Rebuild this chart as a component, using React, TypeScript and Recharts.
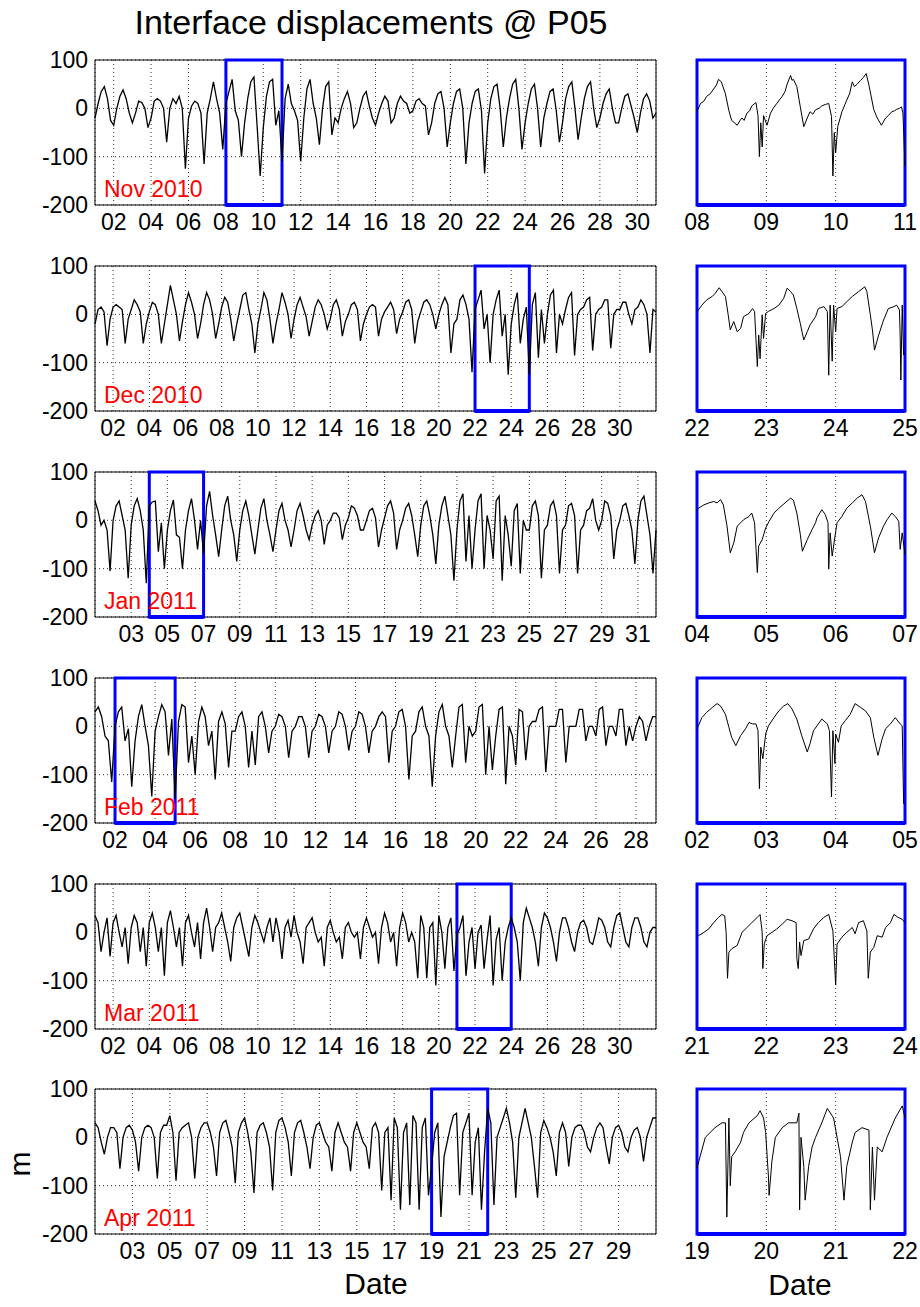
import { LineChart, Line, XAxis, YAxis, CartesianGrid, ReferenceArea, ReferenceLine } from 'recharts';

const FONT = '"Liberation Sans", Arial, Helvetica, sans-serif';

// rows, top to bottom
const monthLabels = ['Nov 2010', 'Dec 2010', 'Jan 2011', 'Feb 2011', 'Mar 2011', 'Apr 2011'];
const monthDays = [30, 31, 31, 28, 31, 30];
const zoomStartDay = [8, 22, 4, 2, 21, 19];

// day-of-month tick labels (left panels)
const novTicks = [2, 4, 6, 8, 10, 12, 14, 16, 18, 20, 22, 24, 26, 28, 30];
const decTicks = [2, 4, 6, 8, 10, 12, 14, 16, 18, 20, 22, 24, 26, 28, 30];
const janTicks = [3, 5, 7, 9, 11, 13, 15, 17, 19, 21, 23, 25, 27, 29, 31];
const febTicks = [2, 4, 6, 8, 10, 12, 14, 16, 18, 20, 22, 24, 26, 28];
const marTicks = [2, 4, 6, 8, 10, 12, 14, 16, 18, 20, 22, 24, 26, 28, 30];
const aprTicks = [3, 5, 7, 9, 11, 13, 15, 17, 19, 21, 23, 25, 27, 29];
const yTicks = [-200, -100, 0, 100];

// displacement (m), 4-hourly samples from 00h on the 1st
const nov10 = [
  -20, 10, 35, 45, 20, -25,
  -35, 0, 25, 38, 20, -10,
  -30, -10, 15, 12, 0, -40,
  -20, 15, 20, 15, 0, -70,
  0, 20, 10, 25, 0, -125,
  -20, 5, 15, 10, -10, -115,
  -10, 20, 55, 20, -10, -85,
  10, 35, 60, -5, -25, -100,
  -30, 20, 55, 65, -35, -140,
  -40, 25, 55, 60, -35, -5,
  -110, 20, 50, 10, -5, -25,
  -110, -20, 40, 60, 10, -20,
  -75, 0, 45, 55, -55, -20,
  -30, 0, 20, 35, 10, -40,
  -30, 0, 25, 35, 5, -20,
  -35, -10, 10, 25, 15, -30,
  -20, 10, 25, 15, 10, -10,
  -5, 15, 20, 10, 5, -55,
  -30, 10, 30, 35, 0, -80,
  -30, 10, 35, 40, 0, -115,
  -30, 10, 35, 40, -5, -135,
  -30, 20, 45, 50, 0, -80,
  -20, 20, 50, 60, 0, -85,
  -30, 10, 40, 50, 0, -80,
  -20, 10, 35, 40, -5, -70,
  -30, 20, 45, 55, 0, -65,
  -20, 20, 45, 55, 0, -40,
  -20, 10, 30, 40, 0, -30,
  -30, 0, 25, 30, 5, -20,
  -50, -10, 20, 30, 15, -20,
  -10,
];

const dec10 = [
  -20, 10, 15, 5, -65, -10,
  15, 20, 15, 10, -60, -10,
  10, 30, 20, 5, -60, -20,
  5, 25, 20, 0, -60, -20,
  20, 60, 30, 0, -55, -15,
  20, 45, 25, 0, -50, -20,
  20, 45, 30, 0, -50, -20,
  15, 35, 25, -10, -55, -20,
  10, 40, 45, 10, -20, -80,
  -20, 10, 45, 30, -10, -60,
  -20, 10, 45, 25, 0, -50,
  -10, 20, 35, 15, -5, -45,
  -15, 15, 30, 20, 0, -30,
  -10, 20, 30, 10, -45, -15,
  0, 20, 25, 10, -55, -20,
  0, 15, 20, 15, -45, -10,
  5, 15, 25, 10, -40, -10,
  5, 25, 30, 10, -60, -15,
  5, 25, 30, 20, 0, -30,
  0, 20, 35, 20, -80, -20,
  -10, 30, 40, 20, -10, -120,
  10, 30, 50, -30, 0, -100,
  0, 30, 50, -45, 0, -125,
  -20, 20, 45, -60, -10, 15,
  -125, 20, 45, -90, 10, -60,
  0, 40, 50, -80, 0, -20,
  10, 35, 45, -85, 0, 10,
  15, 30, 35, -75, 0, 10,
  15, 30, 30, -70, 0, 10,
  10, 25, 25, 0, -20, 10,
  15, 30, 20, 0, -80, 10,
  5,
];

const jan11 = [
  40, 20, -10, 0, -20, -105,
  0, 30, 40, 10, -20, -120,
  -10, 30, 45, 20, -20, -130,
  30, 38, 40, -65, -5, -100,
  -20, 20, 42, -30, -35, -100,
  -20, 20, 45, 0, -60, 0,
  -70, 30, 60, 10, -30, -75,
  -20, 30, 50, 0, -30, -85,
  -20, 20, 40, 10, -30, -70,
  -20, 25, 45, 0, -30, -65,
  -20, 20, 35, 0, -20, -55,
  -20, 20, 35, 10, -20, -40,
  -10, 10, 20, 0, -50, -10,
  0, 15, 15, 5, -40, -10,
  5, 30, 25, 10, -20, -20,
  0, 20, 25, 5, -55, -20,
  5, 30, 40, 15, -60, -20,
  0, 25, 35, 10, -30, -75,
  -10, 30, 40, 10, -30, -90,
  -10, 30, 50, 10, -30, -125,
  -20, 40, 55, -85, 10, -100,
  -20, 40, 55, -100, 10, -20,
  -80, 40, 50, -125, 10, -30,
  -95, 20, 35, -110, 0, -20,
  -20, 30, 40, 10, -120, -20,
  -10, 30, 40, 10, -110, -20,
  -10, 30, 35, 10, -110, -20,
  -10, 20, 25, 45, 0, -20,
  0, 40, 35, 10, -80, -20,
  0, 30, 35, 10, -20, -90,
  0, 40, 50, 10, -30, -110,
  -20,
];

const feb11 = [
  30, 40, 20, -20, -30, -115,
  0, 30, 40, -30, -5, -125,
  -30, 20, 45, 0, -40, -145,
  -10, 20, 45, 30, -60, 15,
  -150, 10, 45, 40, -75, -20,
  -100, 10, 40, 20, -40, -10,
  -110, 10, 30, 5, -85, -10,
  -10, 20, 30, 0, -85, -10,
  -80, 20, 30, 0, -55, -10,
  0, 25, 20, 0, -65, -10,
  0, 20, 20, 0, -65, -10,
  0, 25, 20, 0, -55, -10,
  0, 30, 25, 0, -50, -10,
  0, 30, 25, 0, -55, -10,
  0, 20, 30, 20, -75, -10,
  0, 30, 35, 0, -110, -20,
  -10, 30, 40, 0, -20, -125,
  -20, 30, 45, 0, -20, -85,
  -20, 40, 45, -75, 0, -20,
  -10, 40, 45, -100, 0, -90,
  -20, 35, 40, -120, 0, -20,
  -80, 35, 30, -70, 0, 10,
  10, 35, 40, -95, 0, 0,
  0, 35, 35, -75, 0, 0,
  0, 35, 35, -30, 0, 0,
  -20, 35, 40, -40, 0, 0,
  -20, 35, 35, -40, 0, -30,
  0, 20, 10, -30, 0, 20,
  20,
];

const mar11 = [
  35, 20, -40, 0, 30, -50,
  20, 35, 0, -30, 10, -65,
  10, 35, 20, -40, 10, -70,
  20, 40, 10, -40, 10, -90,
  20, 45, 10, -30, 10, -70,
  20, 35, 0, -30, 20, -55,
  20, 50, 10, -40, 10, 20,
  40, 10, -20, -60, 10, 30,
  40, 10, -20, -50, 10, 35,
  20, 0, -20, 10, 30, -20,
  30, 0, -55, 10, 25, -10,
  35, 0, -20, -65, 10, 20,
  30, 0, -20, -10, -70, 10,
  25, 0, -20, -10, -55, 10,
  20, 0, -10, 0, -55, 10,
  30, 10, -10, 0, -65, 10,
  40, 20, -20, 0, -70, 10,
  40, 20, -20, 0, -20, -95,
  35, 10, -95, 10, 20, -110,
  35, 0, -75, 10, 30, -80,
  -5, 10, 35, -90, -20, 10,
  -75, 0, 15, -75, -15, 35,
  -110, -15, 10, -100, -20, 10,
  30, 10, -20, -100, 20, 50,
  30, 10, -20, -70, 10, 40,
  30, 10, -20, -60, 0, 30,
  30, 10, -20, -40, 0, 20,
  25, 10, -20, -25, 0, 30,
  25, 10, -20, -30, 10, 35,
  40, 10, -20, -30, 10, 30,
  30, 10, -20, -30, 0, 10,
  10,
];

const apr11 = [
  30, 20, -10, -35, 0, 20,
  20, 10, -65, 0, 20, 25,
  15, -10, -70, 0, 20, 25,
  20, 0, -85, 10, 25, 25,
  45, 10, -90, 10, 20, 25,
  30, 0, -85, 0, 20, 30,
  30, 10, -20, -80, 10, 30,
  35, 10, -20, -95, 10, 30,
  40, 10, -30, -115, 10, 25,
  30, 10, -20, -110, 10, 35,
  40, 20, -10, -80, 10, 30,
  35, 10, -20, -65, 0, 25,
  30, 10, -10, -20, -70, 10,
  30, 10, -10, -20, -70, 10,
  30, 10, -10, -20, -65, 20,
  30, 10, -110, 10, 20, -130,
  40, 20, -150, 10, 30, -140,
  45, 30, -150, 20, 40, -120,
  -60, 10, 30, -165, -40, -10,
  20, 45, 50, -120, 10, 30,
  50, -120, -10, 20, -150, -30,
  60, 30, -140, 0, 20, 40,
  60, 30, -10, -125, 0, 30,
  60, 30, 0, -60, -125, 10,
  35, 20, 0, -30, -80, 10,
  30, 10, -60, 0, 20, 25,
  25, 10, -20, -30, 0, 20,
  30, 20, -20, -55, 0, 20,
  25, 10, -20, -30, 0, 15,
  20, 0, -50, 0, 20, 40,
  40,
];

// 3-day close-ups: [days since window start, displacement]
const novZoom = [
  [0, -7], [0.05, 10], [0.1, 15], [0.14, 25], [0.19, 30], [0.24, 40], [0.28, 48], [0.31, 60], [0.35, 55],
  [0.41, 30], [0.46, -5], [0.5, -25], [0.54, -30], [0.58, -35], [0.62, -25], [0.65, -20], [0.68, -25],
  [0.72, -10], [0.76, -5], [0.79, 5], [0.85, 12], [0.88, -15], [0.9, -100], [0.92, -30], [0.94, -80],
  [0.96, -15], [1.01, -35], [1.06, -10], [1.1, 0], [1.15, 10], [1.23, 25], [1.27, 35], [1.3, 50],
  [1.35, 68], [1.37, 58], [1.39, 60], [1.44, 45], [1.49, 3], [1.54, -38], [1.59, -20], [1.63, -7],
  [1.67, -12], [1.71, -3], [1.76, 0], [1.8, 5], [1.85, 8], [1.9, 10], [1.94, -17], [1.96, -140],
  [1.98, -50], [2.0, -92], [2.03, -38], [2.09, -7], [2.16, 17], [2.2, 30], [2.24, 55], [2.27, 45],
  [2.31, 50], [2.36, 58], [2.4, 64], [2.44, 72], [2.48, 48], [2.55, -3], [2.6, -20], [2.66, -35],
  [2.72, -20], [2.76, -15], [2.81, -7], [2.85, -5], [2.88, -2], [2.92, 0], [2.95, 3], [2.97, -10],
  [2.98, -45], [3.0, -120],
];

const decZoom = [
  [0, 5], [0.02, 9], [0.07, 19], [0.14, 30], [0.22, 37], [0.26, 43], [0.32, 55], [0.36, 47], [0.41, 37],
  [0.45, -1], [0.48, -32], [0.53, -15], [0.58, -36], [0.63, -29], [0.67, -5], [0.75, 2], [0.8, 12],
  [0.83, 6], [0.85, -50], [0.87, -108], [0.89, -43], [0.91, -92], [0.94, -1], [0.96, -50], [0.99, 2],
  [1.03, 6], [1.11, 12], [1.18, 19], [1.25, 33], [1.3, 54], [1.35, 47], [1.39, 40], [1.44, 12],
  [1.49, -19], [1.54, -53], [1.59, -36], [1.63, -22], [1.71, -5], [1.75, 12], [1.83, 16], [1.88, 6],
  [1.9, -126], [1.92, 19], [1.95, -97], [1.97, 19], [2.0, -36], [2.02, 12], [2.09, 16], [2.16, 26],
  [2.24, 37], [2.33, 47], [2.42, 57], [2.45, 47], [2.5, -1], [2.53, -32], [2.56, -74], [2.62, -43],
  [2.69, -12], [2.76, 12], [2.84, 16], [2.88, 19], [2.92, 9], [2.93, -43], [2.94, -136], [2.96, 19],
  [2.98, -84], [3.0, -80],
];

const janZoom = [
  [0, 20], [0.02, 25], [0.1, 32], [0.17, 36], [0.24, 39], [0.29, 36], [0.34, 43], [0.38, 32], [0.43, -9],
  [0.48, -67], [0.53, -47], [0.58, -12], [0.63, -5], [0.67, 1], [0.75, 8], [0.79, 15], [0.83, -5],
  [0.87, -108], [0.89, -53], [0.94, -40], [0.99, -16], [1.04, -2], [1.11, 15], [1.18, 25], [1.27, 36],
  [1.35, 46], [1.39, 42], [1.44, 15], [1.49, -29], [1.52, -64], [1.59, -40], [1.66, -19], [1.71, -5],
  [1.73, 5], [1.8, 22], [1.85, 12], [1.89, -5], [1.9, -101], [1.92, -26], [1.95, -74], [1.99, -33],
  [2.02, -5], [2.09, 8], [2.16, 25], [2.24, 36], [2.31, 46], [2.38, 53], [2.43, 39], [2.5, -12],
  [2.56, -67], [2.62, -36], [2.69, -12], [2.74, 1], [2.81, 15], [2.86, 8], [2.91, -2], [2.93, -60],
  [2.96, -26], [3.0, -71],
];

const febZoom = [
  [0, -5], [0.02, 1], [0.07, 18], [0.14, 29], [0.22, 39], [0.29, 47], [0.34, 42], [0.41, 25], [0.46, -2],
  [0.5, -23], [0.56, -40], [0.63, -19], [0.7, -5], [0.75, 8], [0.8, 5], [0.85, 5], [0.88, -9],
  [0.9, -129], [0.92, -43], [0.95, -67], [0.99, -16], [1.03, 1], [1.11, 18], [1.18, 32], [1.25, 42],
  [1.31, 47], [1.37, 36], [1.44, 15], [1.51, -19], [1.59, -53], [1.63, -36], [1.68, -9], [1.75, 5],
  [1.8, 15], [1.88, 5], [1.91, -9], [1.94, -146], [1.96, -9], [1.99, -77], [2.0, -16], [2.04, -33],
  [2.08, 1], [2.14, 12], [2.21, 25], [2.28, 47], [2.36, 39], [2.43, 32], [2.5, 18], [2.55, -23],
  [2.61, -60], [2.67, -26], [2.72, -5], [2.79, 5], [2.86, 18], [2.93, 5], [2.96, 1], [2.98, -160],
  [3.0, -160],
];

const marZoom = [
  [0, -5], [0.02, -7], [0.1, 0], [0.17, 7], [0.24, 20], [0.31, 31], [0.36, 37], [0.4, 34], [0.42, 0],
  [0.44, -95], [0.46, -41], [0.5, -34], [0.58, -27], [0.65, 0], [0.72, 10], [0.79, 20], [0.87, 31],
  [0.91, 37], [0.94, 0], [0.95, -75], [0.97, -24], [1.01, -7], [1.08, 0], [1.15, 7], [1.23, 17],
  [1.3, 27], [1.37, 24], [1.43, 20], [1.44, -54], [1.46, -75], [1.48, -20], [1.5, -48], [1.54, -17],
  [1.61, -14], [1.68, 7], [1.75, 20], [1.83, 31], [1.9, 37], [1.96, 3], [2.0, -109], [2.02, -24],
  [2.09, -10], [2.16, 0], [2.24, 10], [2.28, -3], [2.33, 20], [2.4, 24], [2.45, 3], [2.47, -95],
  [2.5, -41], [2.55, -31], [2.6, -7], [2.67, -10], [2.72, 10], [2.79, 20], [2.84, 37], [2.9, 31],
  [2.96, 27], [3.0, 20],
];

const aprZoom = [
  [0, -63], [0.12, 0], [0.26, 20], [0.36, 30], [0.41, 30], [0.43, -165], [0.46, 40], [0.48, -100],
  [0.5, -40], [0.55, -30], [0.63, -10], [0.67, 10], [0.75, 30], [0.87, 45], [0.91, 55], [0.96, 40],
  [0.99, 10], [1.03, -80], [1.04, -120], [1.08, -50], [1.13, 0], [1.23, 20], [1.32, 30], [1.44, 30],
  [1.47, 50], [1.48, -150], [1.5, 0], [1.54, -60], [1.56, -130], [1.61, -60], [1.66, -20], [1.71, 0],
  [1.8, 30], [1.88, 60], [1.97, 40], [2.02, 0], [2.07, -40], [2.12, -130], [2.16, -60], [2.24, -10],
  [2.28, 10], [2.38, 20], [2.48, 15], [2.5, -150], [2.53, -20], [2.56, -130], [2.6, -20], [2.67, -30],
  [2.74, 0], [2.86, 40], [2.96, 65], [3.0, 40],
];

const monthSeries = [nov10, dec10, jan11, feb11, mar11, apr11];
const monthTicks = [novTicks, decTicks, janTicks, febTicks, marTicks, aprTicks];
const zoomSeries = [novZoom, decZoom, janZoom, febZoom, marZoom, aprZoom];

const rowTops = [60, 266, 472, 678, 884, 1089];
const PLOT_H = 145;
const TOP_PAD = 18;
const LEFT_X = 95;
const LEFT_W = 561;
const RIGHT_X = 697;
const RIGHT_W = 208;

const pad = (n: number) => String(n).padStart(2, '0');
const tickStyle = { fontSize: 23, fill: '#000', fontFamily: FONT };

function MonthPanel({ row }: { row: number }) {
  const days = monthDays[row];
  const data = monthSeries[row].map((v, i) => ({ t: i / 6, v }));
  const z = zoomStartDay[row] - 1;
  return (
    <div style={{ position: 'absolute', left: 0, top: rowTops[row] - TOP_PAD }}>
      <LineChart width={LEFT_X + LEFT_W + 10} height={PLOT_H + TOP_PAD + 30} data={data}
        margin={{ top: TOP_PAD, right: 10, bottom: 0, left: 0 }}>
        <CartesianGrid stroke="#000" strokeDasharray="1 3" strokeWidth={0.8} />
        <XAxis dataKey="t" type="number" domain={[0, days]} ticks={monthTicks[row].map((d) => d - 1)}
          tickFormatter={(t: number) => pad(Math.round(t) + 1)} interval={0} height={30}
          axisLine={false} tickLine={false} tickSize={6} tickMargin={3} tick={tickStyle} />
        <YAxis type="number" domain={[-200, 100]} ticks={yTicks} interval={0} width={LEFT_X}
          axisLine={false} tickLine={false} tickSize={4} tickMargin={3} tick={tickStyle} />
        <ReferenceArea x1={0} x2={days} y1={-200} y2={100} fill="none" stroke="#000" strokeWidth={1} />
        <Line dataKey="v" stroke="#000" strokeWidth={1.3} dot={false} isAnimationActive={false} />
        <ReferenceArea x1={z} x2={z + 3} y1={-200} y2={100} fill="none" stroke="#0000ff" strokeWidth={3} />
        <ReferenceLine segment={[{ x: z, y: -200 }, { x: z + 3, y: -200 }]} stroke="#0000ff" strokeWidth={4} />
      </LineChart>
    </div>
  );
}

function ZoomPanel({ row }: { row: number }) {
  const data = zoomSeries[row].map(([t, v]) => ({ t, v }));
  const start = zoomStartDay[row];
  return (
    <div style={{ position: 'absolute', left: RIGHT_X - 17, top: rowTops[row] - TOP_PAD }}>
      <LineChart width={RIGHT_W + 32} height={PLOT_H + TOP_PAD + 30} data={data}
        margin={{ top: TOP_PAD, right: 15, bottom: 0, left: 17 }}>
        <CartesianGrid stroke="#000" strokeDasharray="1 3" strokeWidth={0.8} />
        <XAxis dataKey="t" type="number" domain={[0, 3]} ticks={[0, 1, 2, 3]}
          tickFormatter={(t: number) => pad(start + Math.round(t))} interval={0} height={30}
          axisLine={false} tickLine={false} tickSize={6} tickMargin={3} tick={tickStyle} />
        <YAxis type="number" domain={[-200, 100]} ticks={yTicks} width={0} tick={false}
          axisLine={false} tickLine={false} />
        <Line dataKey="v" stroke="#000" strokeWidth={1} dot={false} isAnimationActive={false} />
        <ReferenceArea x1={0} x2={3} y1={-200} y2={100} fill="none" stroke="#0000ff" strokeWidth={3} />
        <ReferenceLine y={-200} stroke="#0000ff" strokeWidth={4} />
      </LineChart>
    </div>
  );
}

export default function App() {
  return (
    <div style={{ position: 'absolute', left: 0, top: 0, width: 920, height: 1307, background: '#fff', fontFamily: FONT }}>
      {monthLabels.map((_, r) => <MonthPanel key={`m${r}`} row={r} />)}
      {monthLabels.map((_, r) => <ZoomPanel key={`z${r}`} row={r} />)}
      <svg width={920} height={1307} style={{ position: 'absolute', left: 0, top: 0, pointerEvents: 'none' }}>
        <text x={371} y={34} textAnchor="middle" fontSize={34} fontFamily={FONT} fill="#000">
          Interface displacements @ P05
        </text>
        {monthLabels.map((m, r) => (
          <text key={m} x={104} y={rowTops[r] + PLOT_H - 8} fontSize={23} fontFamily={FONT} fill="#ff0000">{m}</text>
        ))}
        <text x={376} y={1294} textAnchor="middle" fontSize={30} fontFamily={FONT} fill="#000">Date</text>
        <text x={800} y={1295} textAnchor="middle" fontSize={30} fontFamily={FONT} fill="#000">Date</text>
        <text x={30} y={1164} textAnchor="middle" fontSize={30} fontFamily={FONT} fill="#000"
          transform="rotate(-90 30 1164)">m</text>
      </svg>
    </div>
  );
}
